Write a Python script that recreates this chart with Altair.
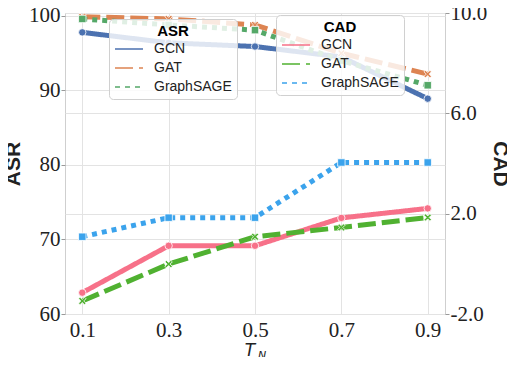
import altair as alt
import pandas as pd

T = [0.1, 0.3, 0.5, 0.7, 0.9]
methods = ["GCN", "GAT", "GraphSAGE"]
asr_gcn = [97.8, 96.4, 95.9, 94.5, 88.9]
asr_gat = [99.9, 99.6, 98.8, 95.0, 92.2]
asr_sage = [99.6, 98.8, 98.1, 94.0, 90.7]
cad_gcn = [-1.15, 0.72, 0.72, 1.83, 2.21]
cad_gat = [-1.48, -0.01, 1.08, 1.45, 1.85]
cad_sage = [1.08, 1.84, 1.84, 4.04, 4.04]
x_ticks = [0.1, 0.3, 0.5, 0.7, 0.9]
asr_ticks = [60, 70, 80, 90, 100]
cad_ticks = [-2, 2, 6, 10]

def long(series):
    rows = []
    for m, vals in zip(methods, series):
        for t, v in zip(T, vals):
            rows.append({"T": t, "method": m, "value": v})
    return pd.DataFrame(rows)

asr_df = long([asr_gcn, asr_gat, asr_sage])
cad_df = long([cad_gcn, cad_gat, cad_sage])

XPATH = "M-1,-0.6L-0.6,-1L0,-0.4L0.6,-1L1,-0.6L0.4,0L1,0.6L0.6,1L0,0.4L-0.6,1L-1,0.6L-0.4,0Z"
dash_range = [[1, 0], [18, 6], [5, 5]]
shape_range = ["circle", XPATH, "square"]
SERIF = "Liberation Serif"

xenc = alt.X("T:Q", scale=alt.Scale(domain=[0.06, 0.94], nice=False, zero=False),
             axis=alt.Axis(values=x_ticks, format=".1f", title=None, grid=True, ticks=False,
                           domain=False, labelPadding=5, gridColor="#e3e3e3",
                           labelFont=SERIF, labelFontSize=21, labelColor="#222"))

def legend(title, lx, ly):
    return alt.Legend(title=title, orient="none", legendX=lx, legendY=ly,
                      fillColor="rgba(255,255,255,0.82)", strokeColor="#d0d0d0",
                      cornerRadius=4, padding=5, symbolType="M-1,0H3", symbolSize=196,
                      symbolStrokeWidth=1.5, labelOffset=24, rowPadding=4,
                      titleFont="Liberation Sans", titleFontSize=15, titleFontWeight="bold",
                      titleAnchor="middle", titleAlign="center", titlePadding=2,
                      labelFont="Liberation Sans", labelFontSize=14, labelColor="#222")

def block(df, colors, yname, ydomain, yticks, labexpr, orient, lg, tpad):
    yenc = alt.Y("value:Q", scale=alt.Scale(domain=ydomain, nice=False, zero=False),
                 axis=alt.Axis(values=yticks, labelExpr=labexpr, orient=orient, title=yname,
                               grid=True, gridColor="#e3e3e3", domain=False,
                               tickColor="#999", tickSize=4, labelPadding=1,
                               labelFont=SERIF, labelFontSize=21, labelColor="#222",
                               titleFont="Liberation Sans", titleFontSize=21,
                               titleFontWeight="bold", titlePadding=tpad, titleColor="#222"))
    col = alt.Color("method:N", scale=alt.Scale(domain=methods, range=colors), legend=lg)
    dash = alt.StrokeDash("method:N", scale=alt.Scale(domain=methods, range=dash_range), legend=lg)
    line = alt.Chart(df).mark_line(strokeWidth=5).encode(x=xenc, y=yenc, color=col, strokeDash=dash)
    layers = [line]
    for m, c, s in zip(methods, colors, shape_range):
        layers.append(
            alt.Chart(df).transform_filter(alt.datum.method == m).mark_point(
                filled=True, size=55, shape=s, fill=c, stroke="white", strokeWidth=0.8, opacity=1
            ).encode(x=xenc, y=yenc)
        )
    return alt.layer(*layers)

asr = block(asr_df, ["#4C72B0", "#DD8452", "#55A868"], "ASR", [60, 100.4], asr_ticks,
            "format(datum.value, 'd')", "left", legend("ASR", 44, 6), 5)
cad = block(cad_df, ["#f77189", "#50b131", "#3ba3ec"], "CAD", [-2, 10], cad_ticks,
            "(datum.value < 0 ? '-' : '') + format(abs(datum.value), '.1f')",
            "right", legend("CAD", 211, 2), 3)

t_main = alt.Chart(pd.DataFrame({"s": ["T"]})).mark_text(
    font="DejaVu Sans", fontStyle="italic", fontSize=17, align="center", baseline="alphabetic",
    color="#222").encode(text="s:N", x=alt.value(185), y=alt.value(343))
t_sub = alt.Chart(pd.DataFrame({"s": ["N"]})).mark_text(
    font="DejaVu Sans", fontStyle="italic", fontSize=11, align="left", baseline="alphabetic",
    color="#222").encode(text="s:N", x=alt.value(193), y=alt.value(346))

chart = alt.layer(asr, cad, t_main, t_sub).resolve_scale(
    y="independent", color="independent", strokeDash="independent"
).properties(
    width=380, height=301, autosize=alt.AutoSizeParams(type="none"),
    padding={"left": 57, "top": 5, "right": 62, "bottom": 43}
).configure_view(stroke="#cfcfcf", strokeWidth=1)

chart.save("out.html", embed_options={"renderer": "svg", "actions": False})
